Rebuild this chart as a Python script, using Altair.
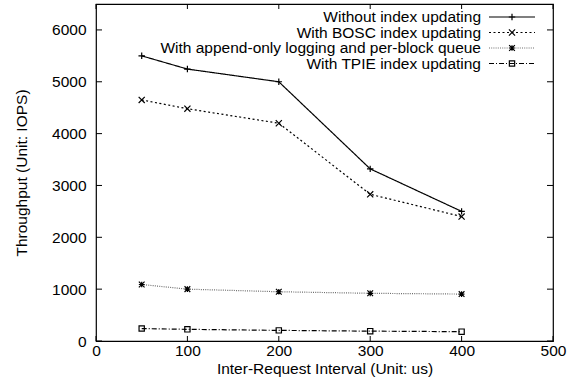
import altair as alt
import pandas as pd

# Inter-request interval (us) and measured throughput (IOPS) per configuration
intervals = [50, 100, 200, 300, 400]
series_names = [
    "Without index updating",
    "With BOSC index updating",
    "With append-only logging and per-block queue",
    "With TPIE index updating",
]
without_index = [5500, 5245, 5000, 3320, 2500]
bosc_index = [4650, 4480, 4200, 2830, 2400]
append_only = [1090, 1000, 950, 920, 905]
tpie_index = [240, 225, 205, 190, 180]

x_ticks = [0, 100, 200, 300, 400, 500]
y_ticks = [0, 1000, 2000, 3000, 4000, 5000, 6000]

FONT = "Liberation Sans"
FS = 15.5
W, H = 457, 337

rows = []
for name, vals in zip(series_names, [without_index, bosc_index, append_only, tpie_index]):
    for x, v in zip(intervals, vals):
        rows.append({"series": name, "interval": x, "iops": v})
df = pd.DataFrame(rows)

legend_df = pd.DataFrame({"series": series_names, "row": list(range(len(series_names)))})
xt_df = pd.DataFrame({"t": x_ticks})
yt_df = pd.DataFrame({"t": y_ticks})

# gnuplot-like point glyphs: plus, cross, asterisk, open square
plus = "M-1,0H1M0,-1V1"
cross = "M-1,-1L1,1M-1,1L1,-1"
star = "M-1,0H1M0,-1V1M-1,-1L1,1M-1,1L1,-1"

x_scale = alt.Scale(domain=[0, 500], nice=False, zero=False)
y_scale = alt.Scale(domain=[0, 6500], nice=False, zero=False)
color_scale = alt.Scale(domain=series_names, range=["black", "black", "#6e6e6e", "black"])
dash_scale = alt.Scale(domain=series_names, range=[[1, 0], [2, 2.5], [1, 1.2], [5, 2, 1, 2]])
shape_scale = alt.Scale(domain=series_names, range=[plus, cross, star, "square"])
size_scale = alt.Scale(domain=series_names, range=[42, 28, 36, 30])

x_enc = alt.X(
    "interval:Q", scale=x_scale,
    axis=alt.Axis(
        values=x_ticks, format="d", title="Inter-Request Interval (Unit: us)", grid=False,
        domain=False, ticks=False, tickSize=0, labelPadding=2, labelFlush=False,
        titleY=32, titleBaseline="alphabetic",
    ),
)
y_enc = alt.Y(
    "iops:Q", scale=y_scale,
    axis=alt.Axis(
        values=y_ticks, format="d", title="Throughput (Unit: IOPS)", grid=False,
        domain=False, ticks=False, tickSize=0, labelPadding=10, labelFlush=False,
        titleX=-75, titleY=H / 2, titleBaseline="middle", titleAngle=-90,
    ),
)

lines = alt.Chart(df).mark_line(strokeWidth=1.2).encode(
    x=x_enc, y=y_enc,
    color=alt.Color("series:N", scale=color_scale, legend=None),
    strokeDash=alt.StrokeDash("series:N", scale=dash_scale, legend=None),
    detail="series:N",
)

points = alt.Chart(df).mark_point(filled=False, color="black", strokeWidth=1.2, opacity=1).encode(
    x="interval:Q", y="iops:Q",
    shape=alt.Shape("series:N", scale=shape_scale, legend=None),
    size=alt.Size("series:N", scale=size_scale, legend=None),
)

# inward ticks on all four sides
tick_style = dict(color="black", strokeWidth=1)
xt_bottom = alt.Chart(xt_df).mark_rule(**tick_style).encode(
    x=alt.X("t:Q", scale=x_scale), y=alt.value(H), y2=alt.value(H - 5))
xt_top = alt.Chart(xt_df).mark_rule(**tick_style).encode(
    x=alt.X("t:Q", scale=x_scale), y=alt.value(0), y2=alt.value(5))
yt_left = alt.Chart(yt_df).mark_rule(**tick_style).encode(
    y=alt.Y("t:Q", scale=y_scale), x=alt.value(0), x2=alt.value(6))
yt_right = alt.Chart(yt_df).mark_rule(**tick_style).encode(
    y=alt.Y("t:Q", scale=y_scale), x=alt.value(W), x2=alt.value(W - 6))

main = alt.layer(lines, points, xt_bottom, xt_top, yt_left, yt_right)

# key in the top-right corner: label, line sample, point glyph
row_enc = alt.Y("row:Q", scale=alt.Scale(domain=[0, 3], range=[13, 59.5]), axis=None)
leg_text = alt.Chart(legend_df).mark_text(
    align="right", baseline="middle", font=FONT, fontSize=FS, color="black"
).encode(x=alt.value(385), y=row_enc, text="series:N")
leg_line = alt.Chart(legend_df).mark_rule(strokeWidth=1.2).encode(
    x=alt.value(393), x2=alt.value(439), y=row_enc,
    color=alt.Color("series:N", scale=color_scale, legend=None),
    strokeDash=alt.StrokeDash("series:N", scale=dash_scale, legend=None),
)
leg_pt = alt.Chart(legend_df).mark_point(filled=False, color="black", strokeWidth=1.2, opacity=1).encode(
    x=alt.value(416), y=row_enc,
    shape=alt.Shape("series:N", scale=shape_scale, legend=None),
    size=alt.Size("series:N", scale=size_scale, legend=None),
)
key = alt.layer(leg_line, leg_pt, leg_text)

chart = (
    alt.layer(main, key)
    .resolve_scale(y="independent")
    .properties(
        width=W, height=H,
        autosize=alt.AutoSizeParams(type="none"),
        padding={"left": 96, "top": 4, "right": 18, "bottom": 51},
        background="white",
    )
    .configure_view(stroke="black", strokeWidth=1.2)
    .configure_axis(
        labelFont=FONT, labelFontSize=FS, labelColor="black",
        titleFont=FONT, titleFontSize=FS, titleColor="black", titleFontWeight="normal",
    )
)

chart.save("out.html", embed_options={"renderer": "svg", "actions": False})
